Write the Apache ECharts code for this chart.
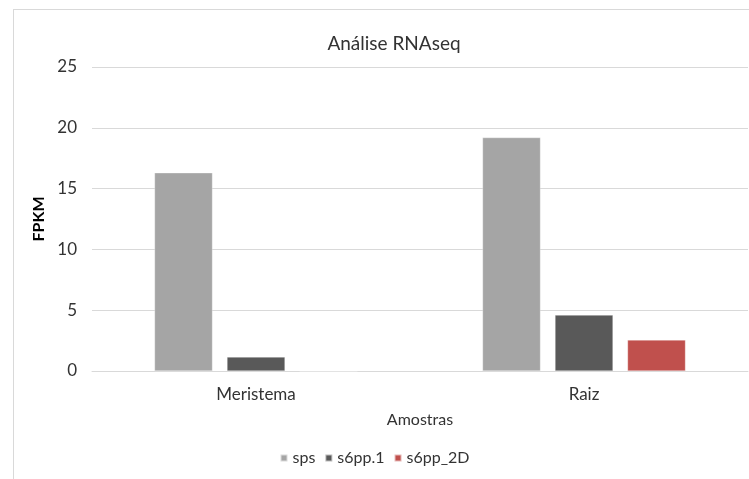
<!DOCTYPE html>
<html>
<head>
<meta charset="utf-8">
<script src="https://cdn.jsdelivr.net/npm/echarts@6/dist/echarts.min.js"></script>
<style>
  html, body { margin: 0; padding: 0; background: #fff; }
  #frame { position: absolute; left: 13px; top: 9px; width: 760px; height: 490px; border: 1px solid #d9d9d9; box-sizing: border-box; }
  #chart { position: absolute; left: 0; top: 0; width: 749px; height: 479px; }
</style>
</head>
<body>
<div id="frame"></div>
<div id="chart"></div>
<script>
// RNAseq expression (FPKM) per sample
const categories = ['Meristema', 'Raiz'];
const spsValues = [16.3, 19.2];
const s6pp1Values = [1.15, 4.6];
const s6pp2DValues = [0, 2.55];
const yTicks = [0, 5, 10, 15, 20, 25];

const font = 'Lato, "Open Sans", sans-serif';
const textColor = '#333333';
const chart = echarts.init(document.getElementById('chart'), null, { renderer: 'canvas' });

function barSeries(name, data, color) {
  return {
    name: name,
    type: 'bar',
    data: data,
    barWidth: 58,
    barGap: '25%',
    itemStyle: { color: color, borderColor: 'rgba(255,255,255,0.6)', borderWidth: 0.5 },
    emphasis: { disabled: true }
  };
}

chart.setOption({
  animation: false,
  title: {
    text: 'Análise RNAseq',
    left: 389, top: 29, textAlign: 'center',
    textStyle: { fontFamily: font, fontSize: 19, fontWeight: 'normal', color: textColor }
  },
  legend: {
    bottom: 8, left: 'center',
    itemWidth: 7, itemHeight: 7, itemGap: 9,
    icon: 'rect',
    textStyle: { fontFamily: font, fontSize: 16, color: textColor },
    data: ['sps', 's6pp.1', 's6pp_2D']
  },
  grid: { left: 92, right: 1, top: 67, bottom: 108 },
  xAxis: {
    type: 'category',
    data: categories,
    name: 'Amostras',
    nameLocation: 'middle',
    nameGap: 41,
    nameTextStyle: { fontFamily: font, fontSize: 16, color: textColor },
    axisLine: { lineStyle: { color: '#d9d9d9', width: 1 } },
    axisTick: { show: false },
    axisLabel: { fontFamily: font, fontSize: 17, color: textColor, margin: 15 }
  },
  yAxis: {
    type: 'value',
    min: yTicks[0], max: yTicks[yTicks.length - 1], interval: 5,
    name: 'FPKM',
    nameLocation: 'middle',
    nameGap: 41,
    nameTextStyle: { fontFamily: font, fontSize: 16, fontWeight: 'bold', color: '#000' },
    axisLine: { show: false },
    axisTick: { show: false },
    splitLine: { lineStyle: { color: '#d9d9d9', width: 1 } },
    axisLabel: { fontFamily: font, fontSize: 17, color: textColor, margin: 15 }
  },
  series: [
    barSeries('sps', spsValues, '#a5a5a5'),
    barSeries('s6pp.1', s6pp1Values, '#595959'),
    barSeries('s6pp_2D', s6pp2DValues, '#c0504d')
  ]
});
</script>
</body>
</html>
